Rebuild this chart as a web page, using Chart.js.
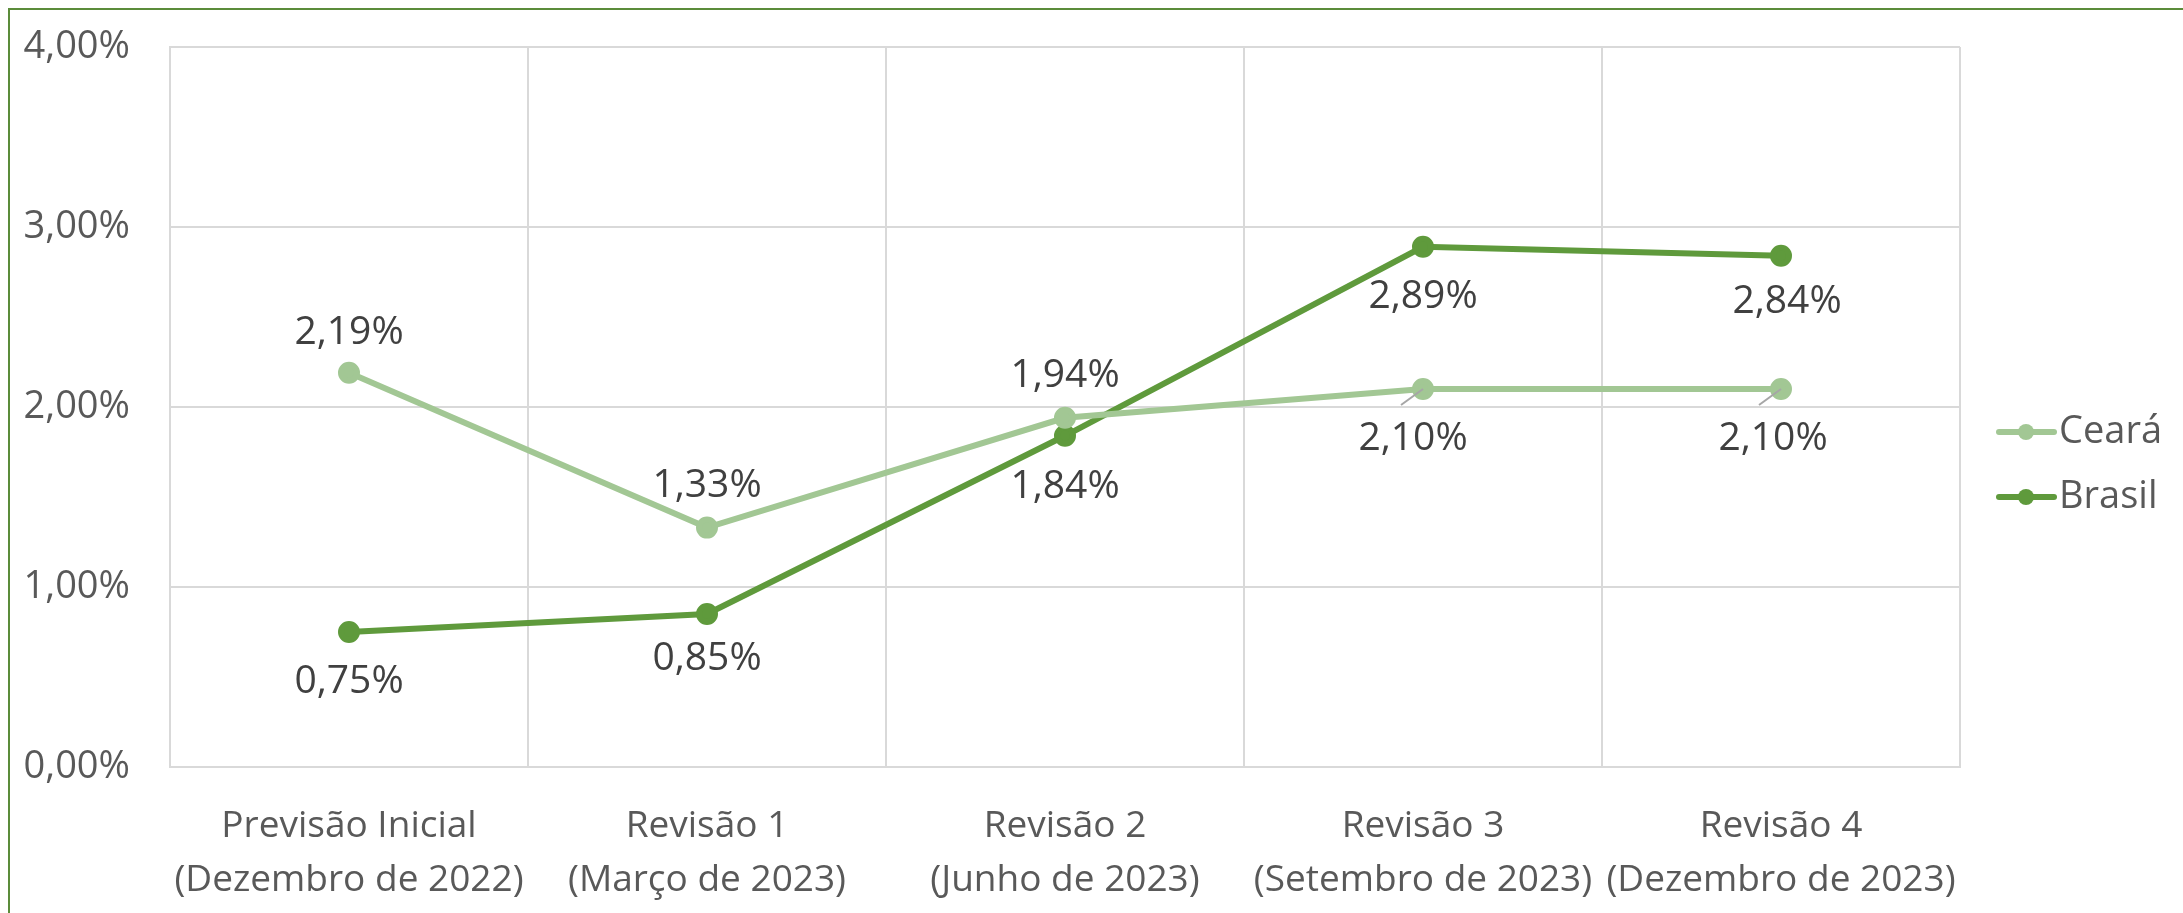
<!DOCTYPE html>
<html>
<head>
<meta charset="utf-8">
<script src="https://cdn.jsdelivr.net/npm/chart.js@4/dist/chart.umd.min.js"></script>
<style>
  html, body { margin: 0; padding: 0; background: #fff; overflow: hidden; }
  #frame {
    position: absolute; left: 8px; top: 8px; width: 2300px; height: 1000px;
    border-left: 2px solid #5b8c3a; border-top: 2px solid #5b8c3a;
  }
  canvas { position: absolute; left: 0; top: 0; }
</style>
</head>
<body>
<div id="frame"></div>
<canvas id="chart" width="2183" height="913"></canvas>
<script>
const categories = [
  ['Previsão Inicial', '(Dezembro de 2022)'],
  ['Revisão 1', '(Março de 2023)'],
  ['Revisão 2', '(Junho de 2023)'],
  ['Revisão 3', '(Setembro de 2023)'],
  ['Revisão 4', '(Dezembro de 2023)']
];
const cearaValues = [2.19, 1.33, 1.94, 2.10, 2.10];
const brasilValues = [0.75, 0.85, 1.84, 2.89, 2.84];
const yTicks = [0, 1, 2, 3, 4];

const CEARA = '#a2c794';
const BRASIL = '#5f9a3c';

function fmt(v) {
  return v.toFixed(2).replace('.', ',') + '%';
}

// label offsets: positive dy = below the point
const labelOffsets = {
  0: [[0, -40], [0, -42], [0, -42], [-10, 50], [-8, 50]],
  1: [[0, 50], [0, 45], [0, 51], [0, 50], [6, 46]]
};
// leader lines for labels pushed away from their point
const leaders = { 0: [3, 4] };

const dataLabels = {
  id: 'dataLabels',
  afterDatasetsDraw(chart) {
    const ctx = chart.ctx;
    ctx.save();
    ctx.font = '39px "Open Sans"';
    ctx.fillStyle = '#404040';
    ctx.textAlign = 'center';
    ctx.textBaseline = 'middle';
    chart.data.datasets.forEach((ds, i) => {
      const meta = chart.getDatasetMeta(i);
      meta.data.forEach((pt, j) => {
        const off = labelOffsets[i][j];
        if (leaders[i] && leaders[i].includes(j)) {
          ctx.strokeStyle = '#a6a6a6';
          ctx.lineWidth = 2;
          ctx.beginPath();
          ctx.moveTo(pt.x, pt.y);
          ctx.lineTo(pt.x - 22, pt.y + 16);
          ctx.stroke();
        }
        ctx.fillText(fmt(ds.data[j]), pt.x + off[0], pt.y + off[1]);
      });
    });
    ctx.restore();
  }
};

const sideLegend = {
  id: 'sideLegend',
  afterDraw(chart) {
    const ctx = chart.ctx;
    const x0 = 1999, rowY = [432, 497];
    ctx.save();
    ctx.font = '38px "Open Sans"';
    ctx.textBaseline = 'middle';
    chart.data.datasets.forEach((ds, i) => {
      const y = rowY[i];
      ctx.strokeStyle = ds.borderColor;
      ctx.lineWidth = 6;
      ctx.lineCap = 'round';
      ctx.beginPath();
      ctx.moveTo(x0, y);
      ctx.lineTo(x0 + 55, y);
      ctx.stroke();
      ctx.fillStyle = ds.borderColor;
      ctx.beginPath();
      ctx.arc(x0 + 27, y, 8, 0, Math.PI * 2);
      ctx.fill();
      ctx.fillStyle = '#595959';
      ctx.fillText(ds.label, x0 + 60, y);
    });
    ctx.restore();
  }
};

new Chart(document.getElementById('chart'), {
  type: 'line',
  data: {
    labels: categories,
    datasets: [
      {
        label: 'Ceará',
        data: cearaValues,
        borderColor: CEARA,
        backgroundColor: CEARA,
        borderWidth: 6,
        pointRadius: 8,
        pointHoverRadius: 8,
        tension: 0
      },
      {
        label: 'Brasil',
        data: brasilValues,
        borderColor: BRASIL,
        backgroundColor: BRASIL,
        borderWidth: 6,
        pointRadius: 8,
        pointHoverRadius: 8,
        tension: 0
      }
    ]
  },
  options: {
    responsive: false,
    animation: false,
    layout: { padding: { left: 0, top: 47, right: 223, bottom: 0 } },
    plugins: {
      legend: { display: false },
      tooltip: { enabled: false }
    },
    scales: {
      x: {
        offset: true,
        grid: { offset: true, color: '#d9d9d9', lineWidth: 2, drawTicks: false },
        border: { color: '#d9d9d9', width: 2 },
        ticks: {
          color: '#595959',
          font: { family: 'Open Sans', size: 37, lineHeight: 1.45 },
          padding: 33,
          maxRotation: 0,
          autoSkip: false
        },
        afterFit(scale) { scale.height = 146; }
      },
      y: {
        min: 0,
        max: 4,
        afterBuildTicks(scale) { scale.ticks = yTicks.map(v => ({ value: v })); },
        grid: { color: '#d9d9d9', lineWidth: 2, drawTicks: true, tickLength: 40, tickColor: 'rgba(0,0,0,0)' },
        border: { color: '#d9d9d9', width: 2 },
        ticks: {
          color: '#595959',
          font: { family: 'Open Sans', size: 38 },
          padding: 0,
          callback: v => fmt(v)
        },
        afterFit(scale) { scale.width = 170; }
      }
    }
  },
  plugins: [dataLabels, sideLegend]
});
</script>
</body>
</html>
